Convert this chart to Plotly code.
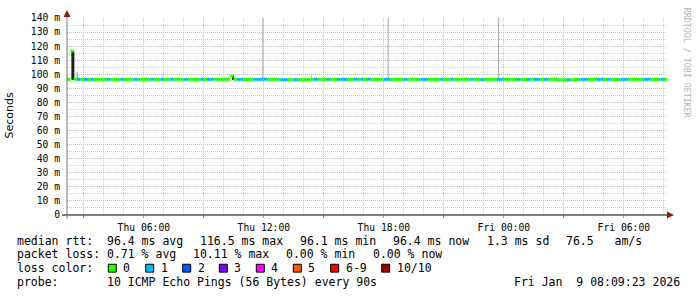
import plotly.graph_objects as go
import pandas as pd

# ---------------- data ----------------
start_time = "2026-01-08 02:09:23"
end_time = "2026-01-09 08:09:23"
slot_minutes = 10

# median RTT (ms) per 10-minute slot
median_ms = [
    96.4, 116.5, 96.5, 96.4, 96.4, 96.4, 96.3, 96.4, 96.4, 96.4, 96.4, 96.5, 96.4, 96.4, 96.4, 96.3, 96.4, 96.4, 96.4, 96.4,
    96.4, 96.4, 96.5, 96.4, 96.4, 96.4, 96.4, 96.3, 96.4, 96.4, 96.4, 96.4, 96.4, 96.5, 96.4, 96.4, 96.4, 96.4, 96.3, 96.4,
    96.4, 96.4, 96.4, 96.4, 96.5, 96.4, 96.4, 96.4, 96.4, 98.8, 96.4, 96.4, 96.4, 96.3, 96.4, 96.4, 96.4, 96.4, 96.4, 96.5,
    96.4, 96.4, 96.4, 96.4, 96.2, 96.2, 96.2, 96.2, 96.2, 96.2, 96.2, 96.2, 96.3, 96.4, 96.4, 96.4, 96.4, 96.4, 96.4, 96.4,
    96.4, 96.4, 96.4, 96.4, 96.3, 96.4, 96.4, 96.4, 96.4, 96.4, 96.5, 96.4, 96.4, 96.4, 96.4, 96.4, 96.4, 96.3, 96.4, 96.4,
    96.4, 96.4, 96.4, 96.5, 96.4, 96.4, 96.4, 96.4, 96.4, 96.4, 96.3, 96.4, 96.4, 96.4, 96.4, 96.4, 96.4, 96.4, 96.5, 96.4,
    96.4, 96.4, 96.4, 96.4, 96.3, 96.4, 96.4, 96.4, 96.4, 96.4, 96.4, 96.4, 96.5, 96.4, 96.4, 96.4, 96.4, 96.3, 96.4, 96.4,
    96.4, 96.4, 96.4, 96.4, 96.4, 96.4, 96.4, 96.1, 96.1, 96.1, 96.1, 96.1, 96.3, 96.4, 96.4, 96.4, 96.4, 96.4, 96.5, 96.4,
    96.4, 96.4, 96.4, 96.4, 96.4, 96.3, 96.4, 96.4, 96.4, 96.4, 96.4, 96.4, 96.4, 96.4, 96.5, 96.4, 96.4, 96.4, 96.4, 96.4,
]

# lost pings (out of 10) per slot
loss_pings = [
    0, 0, 0, 1, 0, 1, 0, 1, 0, 0, 0, 0, 1, 0, 0, 0, 1, 0, 0, 0,
    1, 0, 0, 0, 0, 1, 0, 0, 1, 0, 0, 1, 0, 0, 0, 1, 0, 0, 0, 0,
    1, 0, 1, 1, 0, 0, 0, 0, 0, 0, 0, 1, 1, 0, 0, 0, 1, 1, 1, 1,
    0, 0, 0, 0, 1, 1, 0, 0, 1, 0, 0, 0, 0, 0, 1, 0, 0, 0, 1, 0,
    0, 1, 1, 1, 0, 0, 1, 0, 1, 0, 1, 0, 0, 0, 0, 1, 1, 0, 0, 0,
    0, 1, 0, 0, 0, 0, 1, 1, 0, 0, 0, 0, 1, 0, 0, 1, 0, 0, 0, 0,
    0, 1, 0, 0, 1, 0, 0, 0, 0, 1, 1, 0, 0, 0, 0, 1, 0, 0, 1, 0,
    1, 1, 0, 1, 0, 0, 0, 0, 0, 0, 1, 0, 0, 0, 1, 1, 0, 0, 0, 1,
    1, 0, 1, 0, 0, 0, 1, 1, 0, 0, 0, 0, 0, 1, 1, 0, 0, 0, 1, 0,
]

# smoke (ping spread) spikes
smoke_times = ["2026-01-08 02:27", "2026-01-08 02:40", "2026-01-08 06:58", "2026-01-08 10:27",
               "2026-01-08 11:57", "2026-01-08 14:23", "2026-01-08 18:13", "2026-01-08 23:44"]
smoke_lo = [96.0, 96.6, 96.6, 96.0, 96.6, 96.6, 96.6, 96.6]
smoke_hi = [116.5, 101.5, 101.0, 99.2, 160.0, 100.0, 160.0, 160.0]
smoke_shade = ["#1e1e1e", "#9a9a9a", "#c8c8c8", "#202020", "#b4b4b4", "#c0c0c0", "#b4b4b4", "#b4b4b4"]

loss_labels = ["0", "1", "2", "3", "4", "5", "6-9", "10/10"]
loss_colors = ["#26ff00", "#00b8ff", "#0059ff", "#7e00ff", "#ff00ff", "#ff5500", "#ff0000", "#a10000"]

y_tickvals = [0, 10, 20, 30, 40, 50, 60, 70, 80, 90, 100, 110, 120, 130, 140]
y_ticktext = ["0", "10 m", "20 m", "30 m", "40 m", "50 m", "60 m", "70 m", "80 m", "90 m",
              "100 m", "110 m", "120 m", "130 m", "140 m"]
x_tickvals = ["2026-01-08 03:00", "2026-01-08 06:00", "2026-01-08 09:00", "2026-01-08 12:00",
              "2026-01-08 15:00", "2026-01-08 18:00", "2026-01-08 21:00", "2026-01-09 00:00",
              "2026-01-09 03:00", "2026-01-09 06:00"]
x_ticktext = ["", "Thu 06:00", "", "Thu 12:00", "", "Thu 18:00", "", "Fri 00:00", "", "Fri 06:00"]

row1_items = ["median rtt:  96.4 ms avg", "116.5 ms max", "96.1 ms min", "96.4 ms now", "1.3 ms sd",
              "76.5   am/s"]
row2_items = ["packet loss: 0.71 % avg", "10.11 % max", "0.00 % min", "0.00 % now"]
row4_items = ["probe:       10 ICMP Echo Pings (56 Bytes) every 90s"]
date_text = "Fri Jan  9 08:09:23 2026"

# ---------------- build ----------------
W, H = 697, 297
L, R, T, B = 67, 667, 15, 215
MONO = "DejaVu Sans Mono"
FS = 11.5
CW = 0.602 * FS       # monospace advance
GAP = 17.2            # rrdtool legend glue


def px(x):
    return (x - L) / (R - L)


def py(y):
    return (B - y) / (B - T)


def nb(s):
    return s.replace(" ", "\u00a0")


t0 = pd.Timestamp(start_time)
slot_t = [t0 + pd.Timedelta(minutes=slot_minutes * i) for i in range(len(median_ms) + 1)]


def color_index(n):
    if n <= 5:
        return n
    if n < 10:
        return 6
    return 7


fig = go.Figure()

for t, lo, hi, c in zip(smoke_times, smoke_lo, smoke_hi, smoke_shade):
    w = 3 if c == "#1e1e1e" else (2 if c == "#202020" else 1.2)
    fig.add_trace(go.Scatter(x=[t, t], y=[lo, hi], mode="lines",
                             line=dict(color=c, width=w), hoverinfo="skip", showlegend=False))

segs = {}
for i, (m, n) in enumerate(zip(median_ms, loss_pings)):
    ci = color_index(n)
    xs, ys = segs.setdefault(ci, ([], []))
    xs += [slot_t[i], slot_t[i + 1], None]
    ys += [m, m, None]
for ci, (xs, ys) in sorted(segs.items()):
    fig.add_trace(go.Scatter(x=xs, y=ys, mode="lines",
                             line=dict(color=loss_colors[ci], width=3),
                             hoverinfo="skip", showlegend=False))

FONT = dict(family=MONO, size=FS, color="#000")


def text_ann(x, y, txt, xanchor="left", **kw):
    d = dict(xref="paper", yref="paper", x=px(x), y=py(y), text=nb(txt), xanchor=xanchor,
             yanchor="middle", showarrow=False, font=FONT)
    d.update(kw)
    return d


ann = []
for items, yc in ((row1_items, 241.0), (row2_items, 255.0), (row4_items, 283.0)):
    x = 16.0
    for txt in items:
        ann.append(text_ann(x - 1.5, yc, txt))
        x += len(txt) * CW + GAP
ann.append(text_ann(14.5, 269.0, "loss color:"))
ann.append(text_ann(682, 283.0, date_text, xanchor="right"))

sq_x = [108.3, 145.7, 182.7, 219.3, 256.3, 293.3, 330.7, 381.7]
shapes = []
for sx, lab, col in zip(sq_x, loss_labels, loss_colors):
    shapes.append(dict(type="rect", xref="paper", yref="paper",
                       x0=px(sx), x1=px(sx + 8), y0=py(273), y1=py(265),
                       fillcolor=col, line=dict(color="#000", width=1)))
    ann.append(text_ann(sx + 13, 269.0, lab))

ann.append(dict(xref="paper", yref="paper", x=px(10), y=py(114), text="Seconds", textangle=-90,
                xanchor="center", yanchor="middle", showarrow=False,
                font=dict(family="DejaVu Sans", size=11, color="#000")))
ann.append(dict(xref="paper", yref="paper", x=px(686.5), y=py(60), text=nb("RRDTOOL / TOBI OETIKER"),
                textangle=90, xanchor="center", yanchor="middle", showarrow=False,
                font=dict(family=MONO, size=8.3, color="#b4b4b4")))

# axes lines and arrows
shapes.append(dict(type="line", xref="paper", yref="paper", x0=px(62), x1=px(670), y0=py(215), y1=py(215),
                   line=dict(color="#000", width=1)))
shapes.append(dict(type="line", xref="paper", yref="paper", x0=px(67), x1=px(67), y0=py(219), y1=py(12),
                   line=dict(color="#777", width=1)))
shapes.append(dict(type="path", xref="paper", yref="paper",
                   path=f"M {px(667)} {py(211.5)} L {px(674)} {py(215)} L {px(667)} {py(218.5)} Z",
                   fillcolor="#8b1a1a", line=dict(color="#8b1a1a", width=0)))
shapes.append(dict(type="path", xref="paper", yref="paper",
                   path=f"M {px(63.5)} {py(14)} L {px(67)} {py(7)} L {px(70.5)} {py(14)} Z",
                   fillcolor="#8b1a1a", line=dict(color="#8b1a1a", width=0)))

fig.update_layout(
    width=W, height=H, autosize=False,
    margin=dict(l=L, r=W - R, t=T, b=H - B, pad=0),
    paper_bgcolor="#fff", plot_bgcolor="#fff",
    showlegend=False,
    annotations=ann, shapes=shapes,
    xaxis=dict(
        type="date", range=[start_time, end_time],
        tickmode="array", tickvals=x_tickvals, ticktext=x_ticktext,
        showgrid=True, gridcolor="#f2aaaa", griddash="1px,1px", gridwidth=1,
        showline=False, zeroline=False,
        ticks="outside", ticklen=2, tickcolor="#e08080",
        tickfont=dict(family=MONO, size=9.7, color="#000"),
        ticklabelstandoff=1,
        minor=dict(dtick=3600000, tick0="2026-01-08 00:00", showgrid=True, gridcolor="#d0d0d0",
                   griddash="1px,1px", gridwidth=1, ticks=""),
    ),
    yaxis=dict(
        range=[0, 140], tickmode="array", tickvals=y_tickvals, ticktext=y_ticktext,
        showgrid=True, gridcolor="#f2aaaa", griddash="1px,1px", gridwidth=1,
        showline=False, zeroline=False, ticks="",
        tickfont=dict(family=MONO, size=9.7, color="#000"),
        ticklabelstandoff=6,
        minor=dict(dtick=5, showgrid=True, gridcolor="#d0d0d0", griddash="1px,1px", gridwidth=1, ticks=""),
    ),
)

fig.write_html("out.html")
